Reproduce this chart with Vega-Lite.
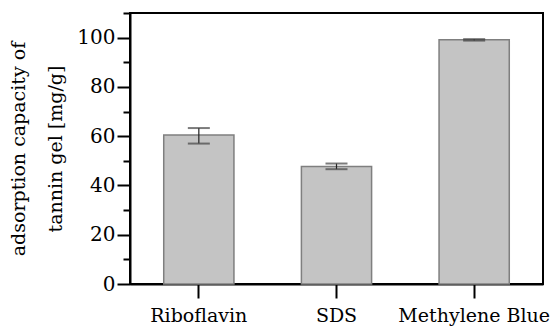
{
  "$schema": "https://vega.github.io/schema/vega-lite/v6.json",
  "width": 413,
  "height": 271,
  "autosize": "none",
  "padding": {"left": 130, "top": 13, "right": 7, "bottom": 43},
  "background": "white",
  "config": {
    "view": {"stroke": "black", "strokeWidth": 2},
    "font": "DejaVu Serif",
    "axis": {"labelFont": "DejaVu Serif", "titleFont": "DejaVu Serif"}
  },
  "data": {
    "values": [
      {"substance": "Riboflavin", "capacity": 60.5, "low": 57.0, "high": 63.3},
      {"substance": "SDS", "capacity": 47.7, "low": 46.6, "high": 48.9},
      {"substance": "Methylene Blue", "capacity": 99.1, "low": 98.8, "high": 99.4}
    ]
  },
  "encoding": {
    "x": {
      "field": "substance",
      "type": "nominal",
      "sort": null,
      "scale": {"paddingInner": 0.49, "paddingOuter": 0.245},
      "axis": {
        "title": null,
        "labelAngle": 0,
        "labelFontSize": 19,
        "labelColor": "black",
        "labelPadding": 8,
        "tickSize": 14,
        "tickWidth": 2,
        "tickColor": "black",
        "domainColor": "black",
        "domainWidth": 2
      }
    }
  },
  "layer": [
    {
      "mark": {"type": "bar", "fill": "#c4c4c4", "stroke": "#7f7f7f", "strokeWidth": 1.5},
      "encoding": {
        "y": {
          "field": "capacity",
          "type": "quantitative",
          "scale": {"domain": [0, 110], "nice": false},
          "axis": {
            "orient": "left",
            "values": [0, 20, 40, 60, 80, 100],
            "title": ["adsorption capacity of", "tannin gel [mg/g]"],
            "titleFontSize": 19,
            "titleFontWeight": "normal",
            "titleColor": "black",
            "titlePadding": 11,
            "titleLineHeight": 37,
            "labelFontSize": 20,
            "labelColor": "black",
            "labelPadding": 2,
            "tickSize": 13,
            "tickWidth": 2,
            "tickColor": "black",
            "domainColor": "black",
            "domainWidth": 2,
            "grid": false
          }
        }
      }
    },
    {
      "mark": {"type": "rule", "color": "#222222", "strokeWidth": 1.2},
      "encoding": {
        "y": {
          "field": "low",
          "type": "quantitative",
          "axis": {
            "orient": "left",
            "values": [10, 30, 50, 70, 90, 110],
            "labels": false,
            "title": null,
            "tickSize": 7,
            "tickWidth": 2,
            "tickColor": "black",
            "domain": false,
            "grid": false
          }
        },
        "y2": {"field": "high"}
      }
    },
    {
      "mark": {"type": "tick", "color": "#444444", "thickness": 2, "size": 22, "orient": "horizontal"},
      "encoding": {"y": {"field": "low", "type": "quantitative", "axis": null}}
    },
    {
      "mark": {"type": "tick", "color": "#444444", "thickness": 2, "size": 22, "orient": "horizontal"},
      "encoding": {"y": {"field": "high", "type": "quantitative", "axis": null}}
    }
  ],
  "resolve": {"axis": {"y": "independent"}}
}
